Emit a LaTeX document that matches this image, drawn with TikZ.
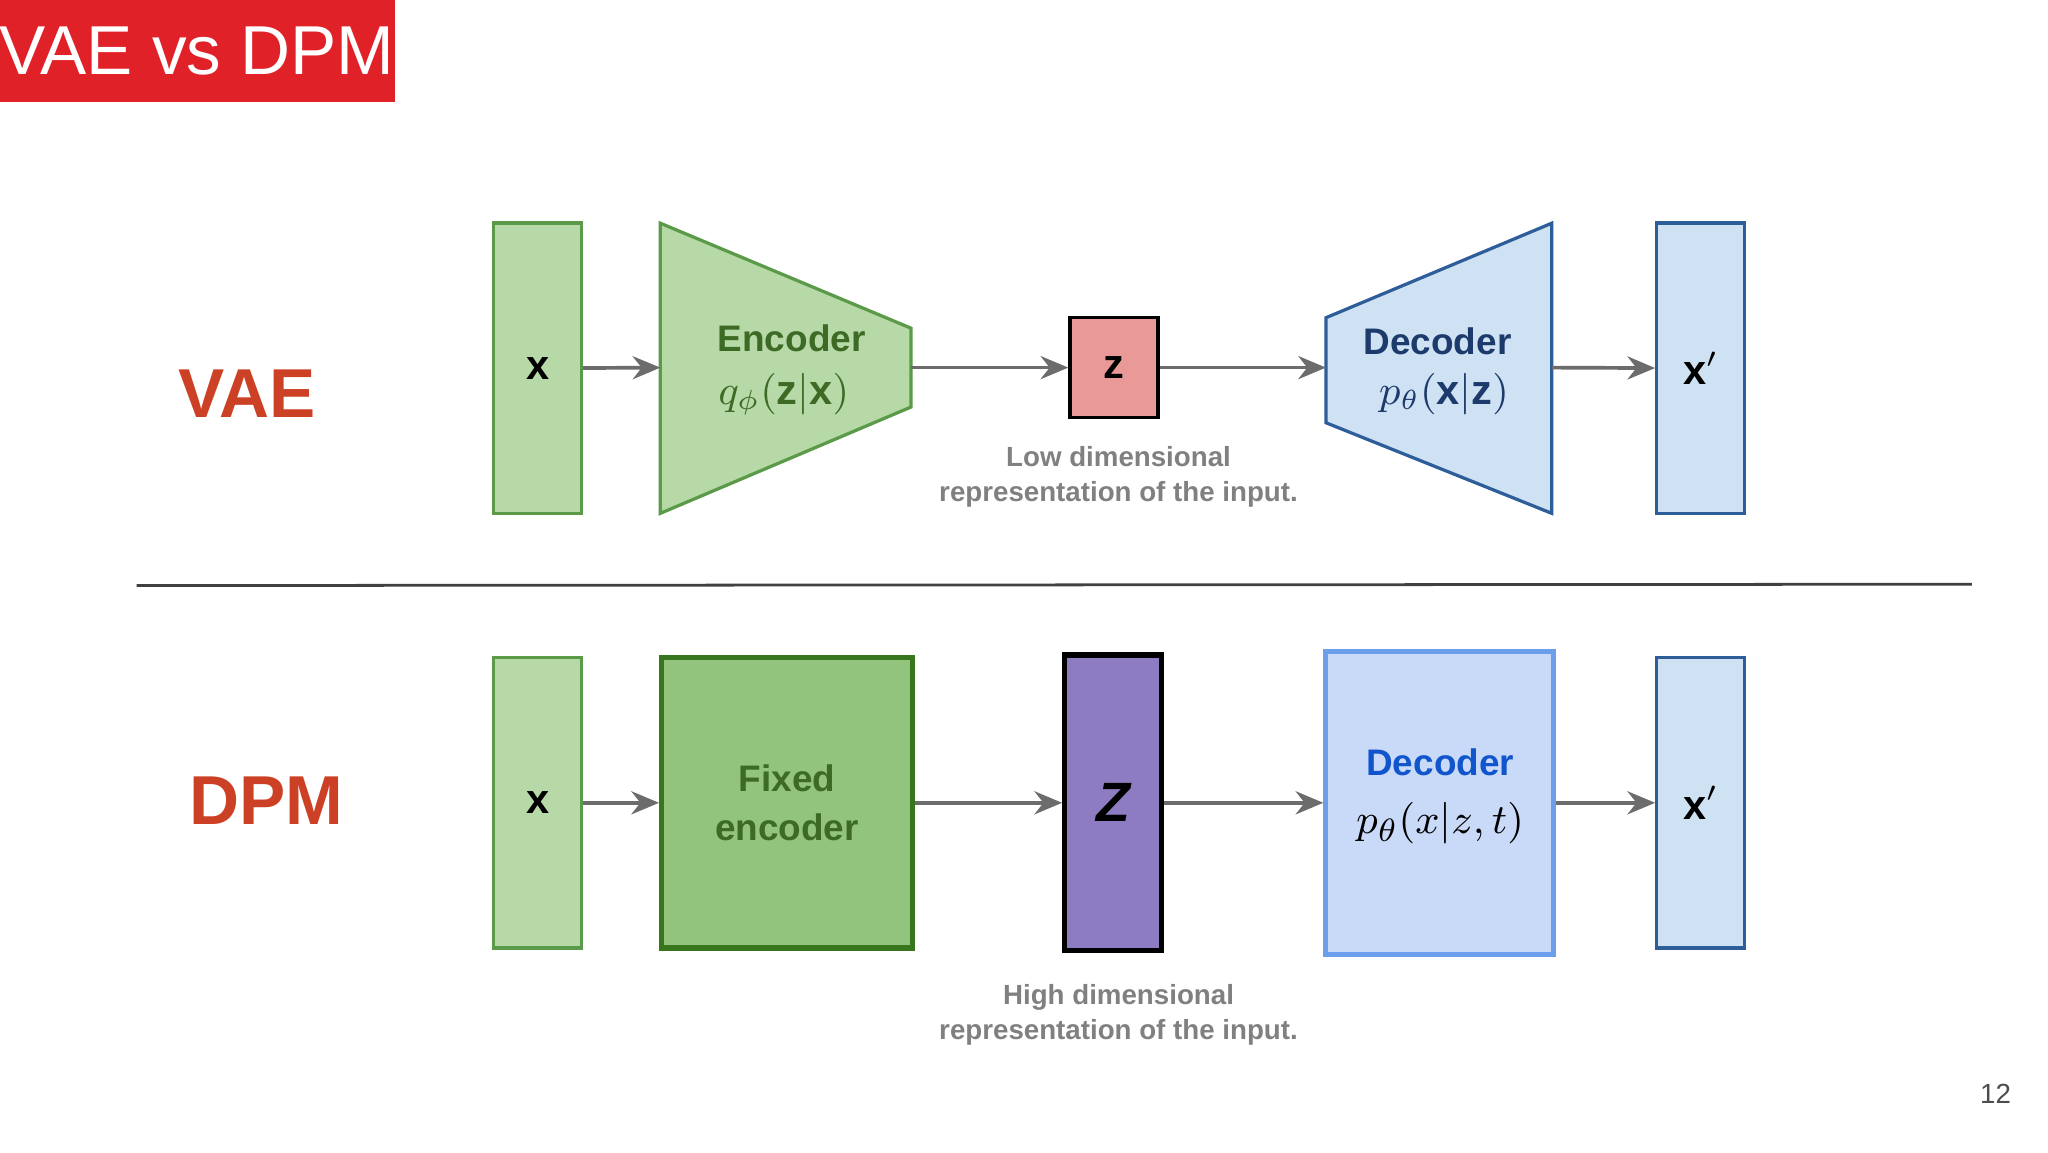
\documentclass[tikz,border=0pt]{standalone}
\usepackage{fontspec}
\setmainfont{Liberation Sans}
\usepackage{amsmath}
\usetikzlibrary{arrows.meta}
\definecolor{titlered}{HTML}{E02127}
\definecolor{rowred}{HTML}{CC4125}
\definecolor{lgreen}{HTML}{B7D9A8}
\definecolor{dgreen}{HTML}{5A9A48}
\definecolor{fgreen}{HTML}{93C47D}
\definecolor{fgreenb}{HTML}{38761D}
\definecolor{lblue}{HTML}{CFE2F3}
\definecolor{dblue}{HTML}{2E5E9A}
\definecolor{zred}{HTML}{EA9999}
\definecolor{zpurple}{HTML}{8E7CC3}
\definecolor{pblue}{HTML}{C9DAF8}
\definecolor{pblueb}{HTML}{6D9EEB}
\definecolor{ptext}{HTML}{1155CC}
\definecolor{etext}{HTML}{3D6B25}
\definecolor{dtext}{HTML}{1C3A6B}
\begin{document}
\begin{tikzpicture}[x=0.01cm,y=-0.01cm]
        \tikzset{
            bar/.style={draw,line width=0.7pt,minimum width=0.67cm,minimum height=2.21cm,inner sep=0pt,font=\fontsize{9}{9}\selectfont},
            inbar/.style={bar,fill=lgreen,draw=dgreen},
            outbar/.style={bar,fill=lblue,draw=dblue},
            flow/.style={-{Stealth[length=6pt,width=5pt]},draw=gray!85!black,line width=0.8pt},
            caption/.style={text=gray,font=\bfseries\fontsize{6}{7.5}\selectfont,align=center},
            rowname/.style={text=rowred,font=\bfseries\fontsize{15}{15}\selectfont},
        }
        \useasboundingbox (0,0) rectangle (1560,877.5);
        % title
        \fill[titlered] (0,0) rectangle (301,78);
        \node[text=white,font=\fontsize{15}{15}\selectfont] (title) at (150,39) {VAE vs DPM};
        \node[text=black!70,font=\fontsize{6}{6}\selectfont] (page) at (1520,833) {12};

        % VAE row
        \node[rowname] (vae) at (188,300) {VAE};
        \node[inbar] (x1) at (409.5,280.5) {$\mathbf{x}$};
        \filldraw[fill=lgreen,draw=dgreen,line width=0.7pt]
            (503,170) -- (694,250) -- (694,310) -- (503,391) -- cycle;
        \coordinate (encin) at (503,280);
        \coordinate (encout) at (694,280);
        \node[text=etext,font=\bfseries\fontsize{8}{8}\selectfont] (enc) at (603,258) {Encoder};
        \node[text=etext,font=\fontsize{9}{9}\selectfont] (encq) at (597,300) {$q_\phi(\mathbf{z}|\mathbf{x})$};
        \node[draw=black,fill=zred,line width=0.7pt,minimum width=0.67cm,minimum height=0.76cm,inner sep=0pt,
            font=\fontsize{9}{9}\selectfont] (z1) at (848.5,280) {$\mathbf{z}$};
        \filldraw[fill=lblue,draw=dblue,line width=0.7pt]
            (1010,242) -- (1182,170) -- (1182,391) -- (1010,322) -- cycle;
        \coordinate (decin) at (1010,280);
        \coordinate (decout) at (1182,280);
        \node[text=dtext,font=\bfseries\fontsize{8}{8}\selectfont] (dec) at (1095,260) {Decoder};
        \node[text=dtext,font=\fontsize{9}{9}\selectfont] (decp) at (1100,300) {$p_\theta(\mathbf{x}|\mathbf{z})$};
        \node[outbar] (y1) at (1295.5,280.5) {$\mathbf{x}'$};
        \node[caption] (cap1) at (852,363) {Low dimensional\\representation of the input.};

        \draw[flow] (x1) -- (encin);
        \draw[flow] (encout) -- (z1);
        \draw[flow] (z1) -- (decin);
        \draw[flow] (decout) -- (y1);

        \draw[black!75,line width=0.6pt] (104,446) -- (1502,445);

        % DPM row
        \node[rowname] (dpm) at (203,610) {DPM};
        \node[inbar] (x2) at (409.5,611.5) {$\mathbf{x}$};
        \node[draw=fgreenb,fill=fgreen,line width=1.1pt,minimum width=1.91cm,minimum height=2.21cm,align=center,
            text=etext,font=\bfseries\fontsize{8}{10.5}\selectfont] (fenc) at (599.5,611.5) {Fixed\\encoder};
        \node[draw=black,fill=zpurple,line width=1.1pt,minimum width=0.74cm,minimum height=2.25cm,inner sep=0pt,
            font=\bfseries\itshape\fontsize{12}{12}\selectfont] (z2) at (848,611.5) {Z};
        \node[draw=pblueb,fill=pblue,line width=1.1pt,minimum width=1.73cm,minimum height=2.31cm,align=center,
            inner sep=0pt] (dec2) at (1096.5,611.5) {};
        \node[text=ptext,font=\bfseries\fontsize{8}{8}\selectfont] (dec2t) at (1097,581) {Decoder};
        \node[font=\fontsize{9.5}{9.5}\selectfont] (dec2p) at (1097,627) {$p_\theta(x|z,t)$};
        \node[outbar] (y2) at (1295.5,611.5) {$\mathbf{x}'$};
        \node[caption] (cap2) at (852,773) {High dimensional\\representation of the input.};

        \draw[flow] (x2) -- (fenc);
        \draw[flow] (fenc) -- (z2);
        \draw[flow] (z2) -- (dec2);
        \draw[flow] (dec2) -- (y2);
    \end{tikzpicture}
\end{document}
